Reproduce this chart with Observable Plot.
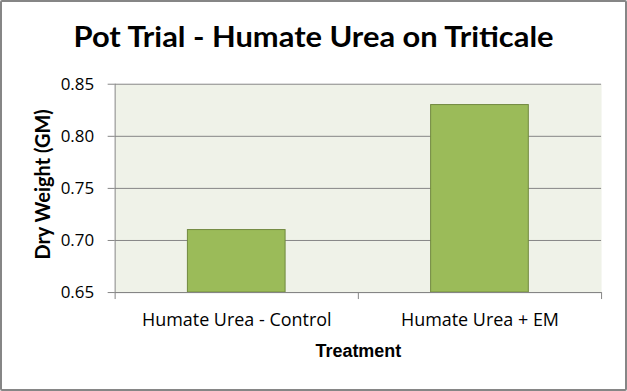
<!DOCTYPE html>
<html><head><meta charset="utf-8">
<script src="https://cdn.jsdelivr.net/npm/d3@7"></script>
<script src="https://cdn.jsdelivr.net/npm/@observablehq/plot@0.6"></script>
<style>
body{margin:0;background:#fff;}
#wrap{position:relative;width:627px;height:391px;box-sizing:border-box;border:2px solid #868686;border-radius:2px;overflow:hidden;background:#fff;}
#title{position:absolute;left:0;width:623px;top:19px;text-align:center;font-family:Lato,'Open Sans',sans-serif;font-weight:bold;font-size:29px;line-height:29px;color:#000;white-space:nowrap;}
#title span{display:inline-block;transform-origin:center;}
#chart{position:absolute;left:-2px;top:-2px;}
</style></head><body>
<div id="wrap"><div id="title"><span>Pot Trial - Humate Urea on Triticale</span></div><div id="chart"></div></div>
<script>
const categories = ["Humate Urea - Control", "Humate Urea + EM"];
const values = [0.71, 0.83];
const yTicks = [0.65, 0.70, 0.75, 0.80, 0.85];
const xTitle = "Treatment";
const yTitle = "Dry Weight (GM)";

const data = categories.map((c, i) => ({category: c, value: values[i]}));
const gray = "#868686";

const plot = Plot.plot({
  width: 627, height: 391,
  marginTop: 84, marginBottom: 98, marginLeft: 115, marginRight: 24,
  style: {background: "none", fontFamily: "'Open Sans', sans-serif", fontSize: "16px", color: "#000"},
  x: {domain: categories, paddingInner: 0.6, paddingOuter: 0.3, label: null},
  y: {domain: [0.65, 0.85], label: null},
  marks: [
    Plot.frame({fill: "#eff2e8", stroke: "none"}),
    Plot.gridY(yTicks, {stroke: gray, strokeOpacity: 1}),
    Plot.barY(data, {x: "category", y1: 0.65, y2: "value", fill: "#9bbb59", stroke: "#71893f", strokeWidth: 1}),
    Plot.axisY(yTicks, {tickFormat: d3.format(".2f"), tickSize: 7, tickPadding: 14, stroke: gray, fontSize: 17, label: null}),
    Plot.axisX({tickSize: 0, tickPadding: 21, fontSize: 18, label: null}),
    Plot.text([xTitle], {frameAnchor: "bottom", dy: 65, fontWeight: "bold", fontSize: 18, fontFamily: "'Liberation Sans', Arial, sans-serif"}),
    Plot.text([yTitle], {frameAnchor: "left", textAnchor: "middle", rotate: -90, dx: -72, dy: -4, fontWeight: "bold", fontSize: 20, fontFamily: "Lato, 'Open Sans', sans-serif"})
  ]
});
document.getElementById("chart").appendChild(plot);

// axis lines and category-boundary ticks from the plot's own scales
const xs = plot.scale("x"), ys = plot.scale("y");
const svg = d3.select(plot);
const gap = (xs.step - xs.bandwidth) / 2;
const bounds = categories.map(c => xs.apply(c) - gap);
bounds.push(xs.apply(categories[categories.length - 1]) + xs.bandwidth + gap);
const yTop = ys.apply(0.85), yBot = ys.apply(0.65);
const g = svg.append("g").attr("stroke", gray).attr("stroke-width", 1);
g.append("line").attr("x1", bounds[0] + 0.5).attr("x2", bounds[0] + 0.5).attr("y1", yTop).attr("y2", yBot);
g.append("line").attr("x1", bounds[0]).attr("x2", bounds[bounds.length - 1]).attr("y1", yBot + 0.5).attr("y2", yBot + 0.5);
bounds.forEach(b => g.append("line").attr("x1", b + 0.5).attr("x2", b + 0.5).attr("y1", yBot).attr("y2", yBot + 7));

const span = document.querySelector("#title span");
const w = span.getBoundingClientRect().width;
span.style.transform = `scaleX(${480 / w})`;
</script>
</body></html>
